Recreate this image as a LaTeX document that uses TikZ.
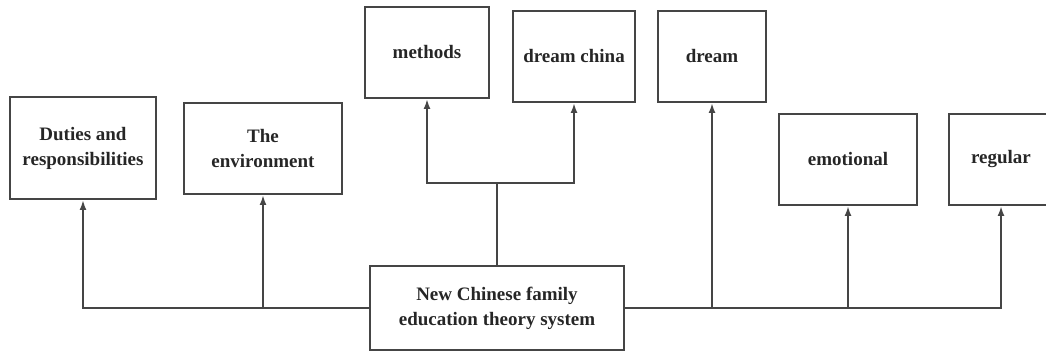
\documentclass[tikz,border=0pt]{standalone}
\usepackage{fontspec}
\setmainfont{Liberation Serif}
\usepackage{tikz}
\usetikzlibrary{arrows.meta}
\definecolor{linegray}{HTML}{454545}
\tikzstyle{box}=[draw=linegray, line width=2pt, align=center, inner sep=0pt, font=\fontsize{19}{25}\selectfont\bfseries, text=black!85]
\tikzstyle{link}=[draw=linegray, line width=2pt, -{Latex[length=10pt,width=7pt]}]

\begin{document}
\begin{tikzpicture}[x=1pt, y=-1pt]
		   \useasboundingbox (0, 0) rectangle (1046, 352);
		   \begin{scope}
			   \node (system) at (497, 308)[box, minimum width=254, minimum height=84] {New Chinese family\\education theory system};
			   \node (duty) at (83, 148)[box, minimum width=146, minimum height=102] {Duties and\\responsibilities};
			   \node (env) at (263, 148.5)[box, minimum width=158, minimum height=91] {The\\environment};
			   \node (methods) at (427, 52.5)[box, minimum width=124, minimum height=91] {methods};
			   \node (china) at (574, 56.5)[box, minimum width=122, minimum height=91] {dream china};
			   \node (dream) at (712, 56.5)[box, minimum width=108, minimum height=91] {dream};
			   \node (emotion) at (848, 159.5)[box, minimum width=138, minimum height=91] {emotional};
			   \node (regular) at (1001, 159.5)[box, minimum width=104, minimum height=91] {regular};
			   \coordinate (split) at (497, 183);
		   \end{scope}
		   \begin{scope}
			   \path [link] (system.west) -| (duty.south);
			   \path [link] (system.west) -| (env.south);
			   \draw [linegray, line width=2pt] (system.north) -- (split);
			   \path [link] (split) -| (methods.south);
			   \path [link] (split) -| (china.south);
			   \path [link] (system.east) -| (dream.south);
			   \path [link] (system.east) -| (emotion.south);
			   \path [link] (system.east) -| (regular.south);
		   \end{scope}
	   \end{tikzpicture}
\end{document}
